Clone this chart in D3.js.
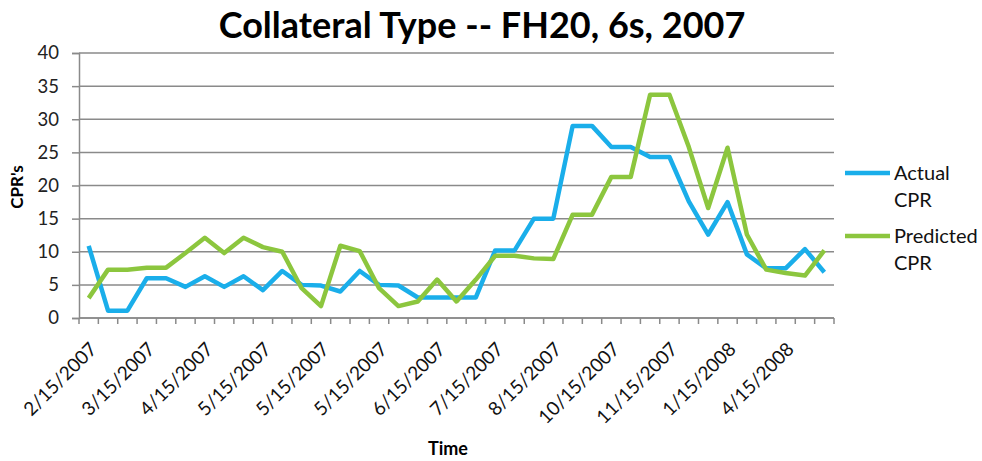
<!DOCTYPE html>
<html>
<head>
<meta charset="utf-8">
<script src="https://cdn.jsdelivr.net/npm/d3@7"></script>
<style>
  body { margin: 0; background: #fff; }
  svg { display: block; font-family: Lato, "Open Sans", sans-serif; }
</style>
</head>
<body>
<svg width="982" height="461"></svg>
<script>
// one label per 3 categories, 39 categories in all
var tickLabels = ["2/15/2007", "3/15/2007", "4/15/2007", "5/15/2007", "5/15/2007", "5/15/2007",
  "6/15/2007", "7/15/2007", "8/15/2007", "10/15/2007", "11/15/2007", "1/15/2008", "4/15/2008"]

var actual = [10.9, 1.1, 1.1, 6.0, 6.0, 4.7, 6.3, 4.7, 6.3, 4.2, 7.1, 5.0,
  4.9, 4.0, 7.1, 5.0, 4.9, 3.1, 3.1, 3.1, 3.1, 10.2, 10.2, 15.0,
  15.0, 29.0, 29.0, 25.8, 25.8, 24.3, 24.3, 17.6, 12.6, 17.5, 9.6, 7.5,
  7.5, 10.4, 6.9]

var predicted = [3.0, 7.3, 7.3, 7.6, 7.6, 9.8, 12.1, 9.8, 12.1, 10.7, 10.0, 4.5,
  1.8, 10.9, 10.1, 4.5, 1.8, 2.5, 5.8, 2.5, 5.8, 9.4, 9.4, 9.0,
  8.9, 15.6, 15.6, 21.3, 21.3, 33.7, 33.7, 25.8, 16.6, 25.7, 12.6, 7.3,
  6.8, 6.4, 10.2]

var seriesNames = ["Actual CPR", "Predicted CPR"]
var colors = ["#1aaeea", "#8cc63e"]

function main() {
  var svg = d3.select("svg")
  var margin = {top: 53, right: 148, bottom: 143, left: 79}
  var width = svg.attr("width") - margin.left - margin.right
  var height = svg.attr("height") - margin.top - margin.bottom

  var canvas = svg.append("g")
    .attr("transform", "translate(" + margin.left + "," + margin.top + ")")

  var cats = d3.range(actual.length)
  var xScale = d3.scaleBand().domain(cats).range([0, width])
  var yScale = d3.scaleLinear().domain([0, 40]).range([height, 0])
  var bw = xScale.bandwidth()

  // gridlines
  canvas.selectAll(".grid").data(yScale.ticks(8)).enter().append("line")
    .attr("x1", 0).attr("x2", width)
    .attr("y1", d => yScale(d)).attr("y2", d => yScale(d))
    .attr("stroke", "#8a8a8a").attr("stroke-width", 1.5)

  // y axis
  var yAxis = d3.axisLeft(yScale).ticks(8).tickSize(7).tickPadding(13)
  var gy = canvas.append("g").call(yAxis)
  gy.select(".domain").attr("stroke", "#8a8a8a").attr("stroke-width", 1.5)
  gy.selectAll(".tick line").attr("stroke", "#8a8a8a").attr("stroke-width", 1.5)
  gy.selectAll("text").attr("font-size", 18.5).attr("fill", "#222")
    .attr("font-family", "Lato, sans-serif")

  // x axis: ticks at category boundaries
  var gx = canvas.append("g").attr("transform", "translate(0," + height + ")")
  gx.append("line").attr("x1", 0).attr("x2", width)
    .attr("stroke", "#8a8a8a").attr("stroke-width", 1.5)
  gx.selectAll(".xt").data(d3.range(actual.length + 1)).enter().append("line")
    .attr("x1", d => d * bw).attr("x2", d => d * bw)
    .attr("y1", 0).attr("y2", 6)
    .attr("stroke", "#8a8a8a").attr("stroke-width", 1.5)

  gx.selectAll(".xl").data(tickLabels).enter().append("text")
    .attr("transform", (d, i) => "translate(" + (xScale(i * 3) + bw / 2) + ",23) rotate(-45)")
    .attr("text-anchor", "end")
    .attr("dy", "0.7em")
    .attr("font-size", 19)
    .attr("fill", "#111")
    .text(d => d)

  // lines
  var line = d3.line()
    .x((d, i) => xScale(i) + bw / 2)
    .y(d => yScale(d))

  ;[actual, predicted].forEach(function(s, k) {
    canvas.append("path").datum(s)
      .attr("d", line)
      .attr("fill", "none")
      .attr("stroke", colors[k])
      .attr("stroke-width", 4.5)
      .attr("stroke-linejoin", "round")
  })

  // titles
  svg.append("text").attr("x", 482).attr("y", 38)
    .attr("text-anchor", "middle").attr("font-size", 36).attr("font-weight", "bold")
    .attr("fill", "#000")
    .text("Collateral Type -- FH20, 6s, 2007")

  svg.append("text").attr("x", 448).attr("y", 455)
    .attr("text-anchor", "middle").attr("font-size", 18).attr("font-weight", "bold")
    .text("Time")

  svg.append("text").attr("transform", "translate(23,187) rotate(-90)")
    .attr("text-anchor", "middle").attr("font-size", 17).attr("font-weight", "bold")
    .text("CPR's")

  // legend
  var legend = svg.append("g").attr("transform", "translate(845,173)")
  seriesNames.forEach(function(name, k) {
    var g = legend.append("g").attr("transform", "translate(0," + k * 63 + ")")
    g.append("line").attr("x1", 0).attr("x2", 45).attr("y1", 0).attr("y2", 0)
      .attr("stroke", colors[k]).attr("stroke-width", 4.5)
    var words = name.split(" ")
    g.append("text").attr("x", 49).attr("y", 7).attr("font-size", 20)
      .attr("fill", "#111").text(words[0])
    g.append("text").attr("x", 49).attr("y", 34).attr("font-size", 20)
      .attr("fill", "#111").text(words[1])
  })
}

window.onload = function() {
  main()
}
</script>
</body>
</html>
